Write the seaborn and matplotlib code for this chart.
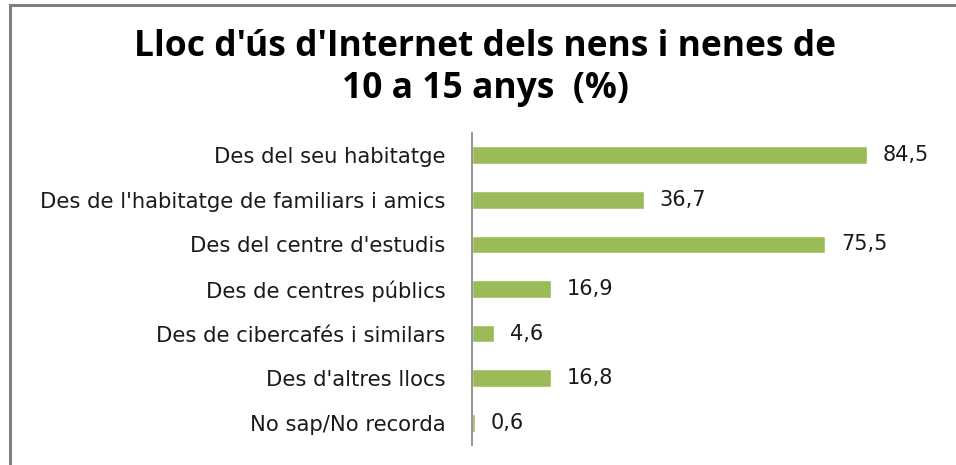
import matplotlib
matplotlib.use("Agg")
import matplotlib.pyplot as plt
import seaborn as sns
import pandas as pd
from matplotlib.patches import Rectangle

categories = [
    "Des del seu habitatge",
    "Des de l'habitatge de familiars i amics",
    "Des del centre d'estudis",
    "Des de centres públics",
    "Des de cibercafés i similars",
    "Des d'altres llocs",
    "No sap/No recorda",
]
values = [84.5, 36.7, 75.5, 16.9, 4.6, 16.8, 0.6]
value_labels = ["84,5", "36,7", "75,5", "16,9", "4,6", "16,8", "0,6"]
title = "Lloc d'ús d'Internet dels nens i nenes de\n10 a 15 anys  (%)"

sns.set_theme(style="white")
plt.rcParams['font.family'] = ['DejaVu Sans']

df = pd.DataFrame({"cat": categories, "val": values})

fig = plt.figure(figsize=(9.56, 4.65), dpi=100)
ax = fig.add_axes([472/956, 1-445/465, (892.7-472)/956, (445-133)/465])

sns.barplot(data=df, x="val", y="cat", orient="h", color="#9BBB59",
            width=0.4, ax=ax, saturation=1)

ax.set_xlim(0, 90)
ax.set_ylim(6.5, -0.5)
ax.set_xlabel("")
ax.set_ylabel("")
ax.set_xticks([])
for s in ["top", "right", "bottom"]:
    ax.spines[s].set_visible(False)
ax.spines["left"].set_color("#808080")
ax.spines["left"].set_linewidth(1.2)
ax.tick_params(axis="y", length=0, pad=19, labelsize=15.2, labelcolor="#1a1a1a")

for i, (v, lab) in enumerate(zip(values, value_labels)):
    ax.annotate(lab, xy=(v, i), xytext=(16, 0), textcoords="offset pixels",
                va="center", ha="left", fontsize=15, color="#1a1a1a")

fig.text(485/956, 1-68/465, title, ha="center", va="center", fontsize=25.5,
         fontweight="bold", linespacing=1.2, color="#000000",
         family=["Open Sans", "DejaVu Sans"])

rect = Rectangle((10/956, -0.1), 1.2, 1-5/465+0.1, transform=fig.transFigure,
                 fill=False, edgecolor="#7F7F7F", linewidth=2.2)
fig.patches.append(rect)

fig.savefig("out.png", dpi=100)
